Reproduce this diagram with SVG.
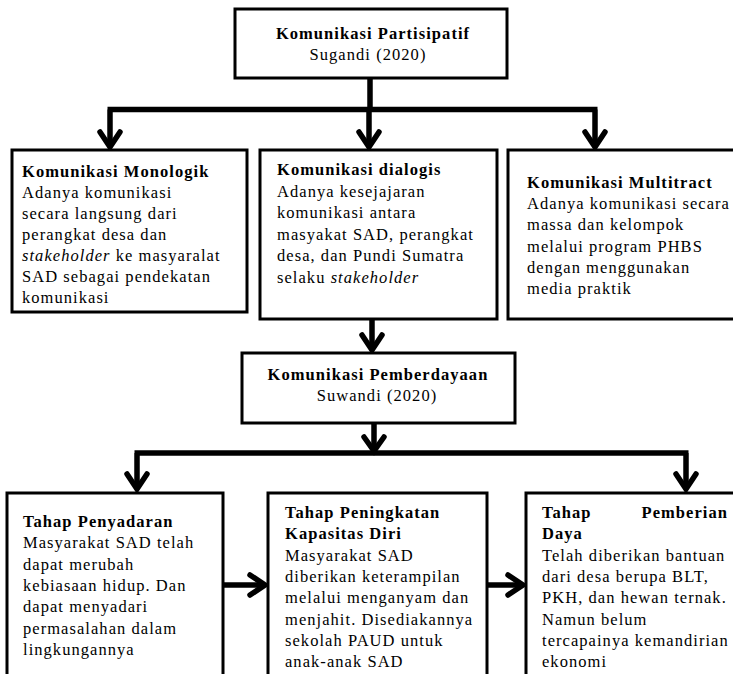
<svg xmlns="http://www.w3.org/2000/svg" width="733" height="674" viewBox="0 0 733 674">
<defs>
<style>
.box{fill:#fff;stroke:#000;stroke-width:3}
.line{fill:none;stroke:#000;stroke-width:5.5;stroke-linejoin:miter;stroke-linecap:butt}
.head{fill:none;stroke:#000;stroke-width:5.5;stroke-linejoin:miter;stroke-linecap:round}
.t{font-family:'Liberation Serif','Times New Roman',serif;font-size:16.5px;letter-spacing:1.05px;fill:#000}
.b{font-weight:bold}
.c{text-anchor:middle}
.i{font-style:italic}
</style>
</defs>
<rect width="733" height="674" fill="#fff"/>
<g id="connectors">
  <path class="line" d="M370,78 V109.5 M107.5,109.5 H597.5 M110,109.5 V147 M369,109.5 V147 M595,109.5 V147"/>
  <path class="head" d="M100,132 L110,147 L120,132 M359,132 L369,147 L379,132 M585,132 L595,147 L605,132"/>
  <path class="line" d="M372,319 V350"/>
  <path class="head" d="M362,335 L372,350 L382,335"/>
  <path class="line" d="M374,423 V451 M134.5,453 H688.5 M137,453 V489 M686,453 V489"/>
  <path class="head" d="M364,437 L374,451 L384,437 M127,474 L137,489 L147,474 M676,474 L686,489 L696,474"/>
  <path class="line" d="M223,585 H265 M487,585 H523"/>
  <path class="head" d="M250,575 L265,585 L250,595 M508,575 L523,585 L508,595"/>
</g>
<g id="n-partisipatif">
  <rect class="box" x="235" y="9" width="272" height="69"/>
  <text class="t b c" x="373" y="39">Komunikasi Partisipatif</text>
  <text class="t c" x="368" y="60">Sugandi (2020)</text>
</g>
<g id="n-monologik">
  <rect class="box" x="12" y="150" width="235" height="162"/>
  <text class="t b" x="22" y="177">Komunikasi Monologik</text>
  <text class="t" x="22" y="198">Adanya komunikasi</text>
  <text class="t" x="22" y="219">secara langsung dari</text>
  <text class="t" x="22" y="240">perangkat desa dan</text>
  <text class="t" x="22" y="261"><tspan class="i">stakeholder</tspan> ke masyaralat</text>
  <text class="t" x="22" y="282">SAD sebagai pendekatan</text>
  <text class="t" x="22" y="303">komunikasi</text>
</g>
<g id="n-dialogis">
  <rect class="box" x="260" y="150" width="237" height="169"/>
  <text class="t b" x="277" y="175">Komunikasi dialogis</text>
  <text class="t" x="277" y="196.5">Adanya kesejajaran</text>
  <text class="t" x="277" y="218">komunikasi antara</text>
  <text class="t" x="277" y="239.5">masyakat SAD, perangkat</text>
  <text class="t" x="277" y="261">desa, dan Pundi Sumatra</text>
  <text class="t" x="277" y="282.5">selaku <tspan class="i">stakeholder</tspan></text>
</g>
<g id="n-multitract">
  <rect class="box" x="508" y="150" width="235" height="169"/>
  <text class="t b" x="527" y="188">Komunikasi Multitract</text>
  <text class="t" x="527" y="209.2">Adanya komunikasi secara</text>
  <text class="t" x="527" y="230.4">massa dan kelompok</text>
  <text class="t" x="527" y="251.6">melalui program PHBS</text>
  <text class="t" x="527" y="272.8">dengan menggunakan</text>
  <text class="t" x="527" y="294">media praktik</text>
</g>
<g id="n-pemberdayaan">
  <rect class="box" x="242" y="353" width="273" height="70"/>
  <text class="t b c" x="378" y="380">Komunikasi Pemberdayaan</text>
  <text class="t c" x="377" y="401">Suwandi (2020)</text>
</g>
<g id="n-penyadaran">
  <rect class="box" x="7" y="493" width="216" height="190"/>
  <text class="t b" x="23" y="527">Tahap Penyadaran</text>
  <text class="t" x="23" y="548.3">Masyarakat SAD telah</text>
  <text class="t" x="23" y="569.6">dapat merubah</text>
  <text class="t" x="23" y="590.9">kebiasaan hidup. Dan</text>
  <text class="t" x="23" y="612.2">dapat menyadari</text>
  <text class="t" x="23" y="633.5">permasalahan dalam</text>
  <text class="t" x="23" y="654.8">lingkungannya</text>
</g>
<g id="n-peningkatan">
  <rect class="box" x="268" y="493" width="219" height="190"/>
  <text class="t b" x="285" y="518">Tahap Peningkatan</text>
  <text class="t b" x="285" y="539.3">Kapasitas Diri</text>
  <text class="t" x="285" y="560.6">Masyarakat SAD</text>
  <text class="t" x="285" y="581.9">diberikan keterampilan</text>
  <text class="t" x="285" y="603.2">melalui menganyam dan</text>
  <text class="t" x="285" y="624.5">menjahit. Disediakannya</text>
  <text class="t" x="285" y="645.8">sekolah PAUD untuk</text>
  <text class="t" x="285" y="667.1">anak-anak SAD</text>
</g>
<g id="n-pemberian">
  <rect class="box" x="526" y="493" width="217" height="190"/>
  <text class="t b" x="542" y="518">Tahap</text>
  <text class="t b" text-anchor="end" x="728" y="518">Pemberian</text>
  <text class="t b" x="542" y="539.3">Daya</text>
  <text class="t" x="542" y="560.6">Telah diberikan bantuan</text>
  <text class="t" x="542" y="581.9">dari desa berupa BLT,</text>
  <text class="t" x="542" y="603.2">PKH, dan hewan ternak.</text>
  <text class="t" x="542" y="624.5">Namun belum</text>
  <text class="t" x="542" y="645.8">tercapainya kemandirian</text>
  <text class="t" x="542" y="667.1">ekonomi</text>
</g>
</svg>
